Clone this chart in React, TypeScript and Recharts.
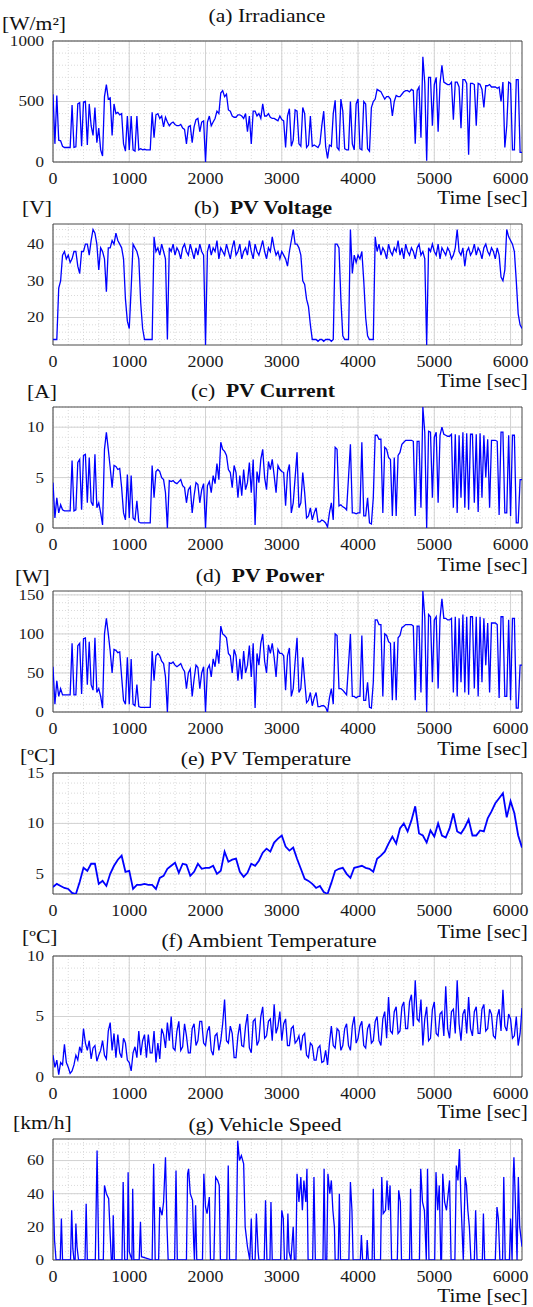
import React from "react";
import { LineChart, Line, XAxis, YAxis, CartesianGrid, ReferenceArea } from "recharts";

const FONT = '"Liberation Serif", "Times New Roman", Times, serif';
const W = 533;
const PLOT_LEFT = 53;
const RIGHT_MARGIN = 11;
const PLOT_H = 121;
const MARGIN_TOP = 12;
const XAXIS_H = 30;
const X_MAX = 6150;

const X_TICKS = [0, 1000, 2000, 3000, 4000, 5000, 6000];

// (a) Irradiance [W/m2], sampled every 25 s from 0 to 6150 s
const IRRADIANCE = [
  560, 150, 550, 180, 175, 130, 120, 120, 120, 120,
  470, 120, 125, 480, 490, 130, 495, 500, 140, 480,
  300, 220, 450, 160, 280, 100, 50, 540, 640, 520,
  530, 220, 480, 400, 410, 390, 400, 150, 90, 380,
  100, 380, 100, 90, 380, 100, 110, 100, 105, 100,
  100, 100, 410, 200, 390, 400, 360, 380, 290, 370,
  330, 300, 320, 330, 310, 300, 300, 310, 280, 270,
  150, 290, 300, 160, 290, 350, 360, 250, 330, 340,
  0, 330, 380, 300, 330, 360, 420, 400, 570, 590,
  540, 560, 430, 420, 380, 370, 370, 390, 390, 380,
  360, 400, 250, 380, 150, 420, 420, 380, 400, 360,
  480, 380, 380, 400, 370, 360, 360, 350, 340, 380,
  350, 340, 120, 380, 440, 130, 180, 430, 420, 150,
  130, 450, 400, 120, 140, 380, 130, 140, 130, 120,
  150, 300, 420, 130, 30, 140, 130, 400, 510, 120,
  100, 520, 420, 110, 100, 100, 500, 150, 100, 480,
  520, 110, 100, 500, 480, 110, 90, 450, 500, 520,
  600, 590, 580, 550, 520, 540, 540, 520, 380, 500,
  550, 540, 540, 560, 580, 590, 590, 580, 600, 590,
  150, 590, 620, 200, 870, 650, 10, 700, 700, 300,
  640, 700, 250, 650, 800, 660, 650, 640, 640, 660,
  350, 660, 660, 620, 280, 680, 680, 650, 60, 650,
  650, 640, 300, 650, 640, 600, 450, 630, 630, 640,
  620, 620, 620, 610, 620, 500, 660, 120, 300, 660,
  650, 100, 100, 680, 680, 80, 80,
];

// (b) PV Voltage [V], every 25 s
const VOLTAGE = [
  14, 14, 14, 28, 30, 37, 38, 36, 37, 35,
  36, 38, 38, 34, 32, 38, 38, 40, 40, 37,
  41, 44, 43, 40, 33, 39, 38, 36, 27, 39,
  39, 41, 40, 43, 41, 40, 39, 36, 25, 19,
  17, 28, 40, 39, 38, 36, 24, 17, 14, 14,
  14, 14, 14, 42, 38, 39, 37, 40, 38, 36,
  14, 39, 38, 40, 37, 39, 38, 36, 39, 40,
  38, 37, 40, 38, 36, 39, 37, 40, 38, 37,
  12.5, 38, 40, 37, 39, 38, 41, 36, 39, 38,
  37, 40, 38, 36, 39, 41, 37, 38, 40, 36,
  38, 39, 37, 41, 38, 36, 40, 38, 37, 39,
  41, 38, 36, 39, 38, 42, 39, 37, 38, 36,
  38, 37, 36, 34, 38, 41, 44, 40, 40, 39,
  37, 30, 29, 25, 23, 18, 14, 14, 14, 13.5,
  14, 14, 13.5, 14, 14, 14, 13.5, 14, 40, 40,
  39, 25, 15, 14, 14, 14, 44, 32, 37, 35,
  37, 36, 38, 30, 20, 15, 14, 14, 14, 42,
  38, 40, 37, 39, 38, 36, 40, 38, 37, 39,
  38, 41, 37, 39, 36, 40, 38, 37, 39, 38,
  36, 39, 40, 37, 38, 36, 12.5, 39, 38, 40,
  38, 37, 40, 36, 39, 38, 37, 39, 38, 36,
  37, 39, 44, 38, 37, 39, 34, 38, 39, 37,
  38, 40, 37, 39, 38, 36, 39, 40, 38, 37,
  39, 38, 36, 39, 37, 31, 30, 33, 44, 42,
  41, 40, 38, 30, 21, 18, 17,
];

// (c) PV Current [A], every 25 s
const CURRENT = [
  4.5, 1, 3, 1.5, 2.3, 1.8, 1.7, 1.7, 1.7, 1.7,
  6.7, 1.7, 1.8, 6.5, 6.8, 1.8, 7.2, 7.3, 2.5, 7,
  2.6, 2.2, 7.3, 2, 2.5, 1.5, 0.3, 7.8, 9.5, 7.8,
  6, 4, 6.2, 6.1, 5.8, 5.9, 4, 1.5, 0.8, 5.3,
  1, 5.2, 1, 0.8, 2.7, 0.6, 0.5, 0.5, 0.5, 0.5,
  0.5, 0.5, 6.2, 3, 5.6, 5.8, 5.6, 5, 4.8, 3.5,
  0, 4.7, 4.6, 4.7, 4.5, 4.4, 4.6, 4.8, 4.2, 4,
  2.5, 3.8, 4.1, 1.5, 3.2, 4.5, 4.3, 2.5, 3.8, 4.4,
  0, 4.2, 4.6, 3.5, 5.2, 4.4, 6.4, 4.8, 8.5, 7.8,
  7.6, 7.2, 5.8, 5.5, 4, 6.2, 5.5, 3, 5.2, 3.2,
  5.8, 3.8, 4.5, 6.5, 3.5, 6.8, 0.3, 5.6, 4.5, 6.8,
  7.8, 5, 3.8, 6.6, 5.8, 6.8, 5.2, 3.5, 6.2, 5.8,
  5.6, 5.5, 2.2, 5.5, 6.3, 1.5, 2.5, 5, 7.5, 2,
  2.5, 5.5, 3.5, 1, 1.2, 2, 0.8, 1.5, 2, 0.6,
  0.6, 0.8, 0.7, 0.5, 0.1, 1.5, 2.5, 0.8, 8, 7.8,
  2.2, 2.3, 2.1, 2, 1.8, 5, 8.3, 1.5, 1.5, 1.4,
  1.5, 1.5, 8.5, 1.2, 1.2, 3, 0.5, 0.4, 3, 9.2,
  9.2, 8.8, 8.8, 1.5, 8, 7.8, 7, 6.8, 1.2, 7,
  1.2, 7.2, 7.5, 8.3, 8.5, 8.7, 8.7, 8.7, 8.7, 8.6,
  1.2, 8.6, 8.6, 2, 12, 9.5, 0, 9.6, 9.5, 3,
  9, 9.5, 2.5, 9.2, 10, 9.3, 9.2, 9.1, 9.1, 9.3,
  2, 9.3, 1.5, 9.2, 3, 9.5, 2, 9.4, 1.8, 9.3,
  9.3, 2.5, 9.3, 1.6, 9.4, 3, 9.2, 5, 8.8, 2,
  8.7, 8.7, 8.7, 8.6, 1.3, 9.5, 9.5, 1.5, 1.5, 9.2,
  1.2, 9.2, 9.2, 0.5, 0.5, 4.8, 4.8,
];

// (d) PV Power [W], every 25 s
const POWER = [
  58, 10, 40, 20, 30, 22, 22, 22, 22, 22,
  88, 22, 22, 85, 88, 23, 94, 95, 35, 90,
  35, 28, 95, 25, 30, 20, 5, 100, 120, 100,
  78, 50, 80, 79, 76, 77, 45, 15, 10, 70,
  10, 68, 10, 8, 35, 7, 6, 6, 6, 6,
  6, 6, 78, 40, 72, 75, 72, 65, 62, 45,
  0, 63, 62, 64, 60, 58, 60, 62, 56, 52,
  30, 50, 55, 20, 42, 60, 57, 30, 50, 58,
  0, 55, 60, 45, 68, 58, 80, 62, 110, 100,
  98, 95, 75, 72, 50, 80, 72, 40, 68, 42,
  78, 50, 60, 85, 45, 88, 5, 75, 60, 88,
  100, 65, 50, 86, 75, 88, 70, 45, 80, 75,
  75, 72, 28, 72, 82, 20, 30, 65, 95, 25,
  30, 70, 40, 12, 15, 25, 8, 18, 25, 7,
  7, 8, 8, 6, 0, 18, 30, 10, 100, 98,
  30, 30, 28, 25, 22, 60, 100, 20, 20, 18,
  20, 20, 98, 15, 15, 38, 6, 5, 38, 118,
  118, 112, 112, 20, 100, 98, 90, 88, 15, 90,
  15, 95, 98, 108, 110, 112, 112, 112, 112, 110,
  15, 110, 110, 25, 155, 122, 0, 125, 122, 38,
  118, 122, 30, 120, 145, 120, 120, 118, 118, 120,
  25, 122, 20, 120, 38, 125, 25, 122, 22, 122,
  122, 30, 122, 20, 122, 38, 120, 60, 114, 25,
  114, 114, 114, 112, 18, 122, 122, 20, 20, 118,
  15, 120, 120, 5, 5, 60, 60,
];

// (e) PV Temperature [ºC], every 50 s
const PV_TEMP = [
  3.7, 4, 3.8, 3.6, 3.5, 3.1, 3.0, 4.2, 5.6, 5.3, 6, 6, 4, 4.3, 3.8, 5, 5.8, 6.4, 6.8, 5.2,
  5.3, 3.5, 3.9, 3.9, 4, 3.9, 3.9, 3.5, 4.6, 4.8, 5.5, 5.8, 6.1, 5.1, 6, 5.9, 4.8, 5.2, 6, 5.5,
  5.6, 5.6, 5.8, 5, 5.3, 7.2, 6.2, 6.4, 6.5, 5.2, 4.7, 5.1, 6, 5.8, 6.3, 7.1, 7.5, 7.2, 8.1, 8.5,
  8.8, 7.7, 7.3, 7.6, 6.5, 5.5, 4.5, 4.3, 4, 3.6, 3.8, 3.2, 3.0, 4.1, 5.3, 5.5, 5.6, 5, 4.6, 5.6,
  5.7, 5.8, 5.6, 5.5, 5.2, 6.5, 6.8, 7.2, 8, 8.7, 8, 9.5, 10, 9.2, 10.3, 11.7, 9, 8.8, 8.1, 9.3,
  8.7, 10, 8.8, 8.6, 9.5, 11, 9.2, 9, 9.6, 10.4, 8.8, 8.8, 9.3, 9.2, 10.5, 11.2, 12, 12.5, 13, 10.6,
  12.2, 11, 8.8, 7.6,
];

// (f) Ambient Temperature [ºC], every 25 s
const AMB_TEMP = [
  1.8, 0.8, 1.4, 0.2, 1.2, 1.0, 2.7, 1.2, 0.8, 0.3,
  0.5, 1.0, 1.8, 1.4, 2.5, 2.0, 4.0, 2.8, 2.2, 3.0,
  1.5, 2.4, 2.6, 1.3, 1.8, 2.2, 3.0, 1.8, 1.5, 3.8,
  4.5, 2.2, 3.6, 1.6, 3.5, 2.0, 1.6, 3.2, 2.8, 1.4,
  1.2, 0.5, 2.0, 2.5, 1.6, 3.8, 1.8, 3.0, 3.5, 1.6,
  3.5, 2.0, 2.0, 3.8, 1.2, 2.8, 1.5, 4.0, 3.5, 2.4,
  4.5, 3.0, 5.0, 2.4, 2.2, 3.8, 4.6, 2.2, 2.5, 4.4,
  3.4, 2.0, 2.0, 4.0, 4.4, 2.6, 3.0, 4.6, 4.6, 2.8,
  2.6, 3.8, 4.2, 2.2, 1.8, 3.4, 3.6, 2.2, 3.0, 4.4,
  6.4, 3.0, 2.8, 4.2, 3.6, 1.6, 1.6, 3.4, 4.4, 2.6,
  2.5, 4.2, 5.2, 2.4, 2.0, 4.6, 4.8, 2.6, 3.0, 5.0,
  5.8, 3.2, 3.4, 4.6, 4.8, 3.0, 6.0, 3.6, 4.2, 5.4,
  3.0, 4.4, 4.8, 2.6, 2.6, 4.0, 4.2, 2.8, 3.0, 3.4,
  2.2, 3.4, 3.6, 1.8, 1.6, 2.8, 2.6, 1.4, 1.4, 2.4,
  2.6, 1.2, 1.3, 2.2, 1.0, 2.8, 4.2, 2.6, 2.4, 4.0,
  3.8, 2.2, 2.6, 4.0, 4.4, 2.6, 2.2, 4.2, 5.0, 2.8,
  3.2, 4.2, 4.6, 2.6, 2.4, 4.0, 4.4, 2.8, 3.0, 4.6,
  5.0, 3.0, 2.6, 4.8, 5.4, 3.2, 6.6, 3.8, 3.6, 5.4,
  5.8, 3.6, 3.8, 5.8, 6.2, 4.0, 4.0, 6.2, 6.8, 4.2,
  8.0, 4.8, 4.6, 6.4, 2.6, 4.8, 5.8, 3.0, 3.2, 5.6,
  6.2, 3.6, 3.4, 5.2, 5.4, 3.4, 7.5, 4.0, 3.2, 5.4,
  5.6, 3.6, 8.0, 4.4, 3.0, 5.2, 5.6, 3.6, 6.6, 4.0,
  3.4, 5.4, 5.8, 3.6, 3.6, 5.6, 6.0, 3.8, 4.0, 5.6,
  5.2, 3.4, 3.2, 5.0, 5.6, 3.8, 7.2, 4.2, 3.8, 5.2,
  4.8, 3.2, 3.4, 5.0, 2.6, 3.6, 5.7,
];

// (g) Vehicle Speed [km/h] as [time s, speed]
const SPEED: [number, number][] = [
  [0, 42], [20, 12], [40, 0], [95, 0], [110, 25], [125, 0], [230, 0], [245, 30], [260, 7], [275, 0],
  [290, 0], [300, 22], [315, 8], [335, 0], [420, 0], [435, 34], [450, 0], [555, 0], [578, 66], [600, 0],
  [660, 0], [675, 45], [700, 40], [730, 37], [750, 15], [765, 0], [780, 0], [790, 27], [805, 0],
  [905, 0], [920, 47], [940, 0], [975, 0], [985, 53], [1000, 5], [1035, 0], [1045, 43], [1060, 0],
  [1130, 0], [1147, 23], [1160, 2], [1300, 0], [1320, 58], [1340, 0], [1385, 0], [1400, 32], [1430, 27],
  [1450, 35], [1475, 62], [1495, 20], [1510, 0], [1595, 0], [1613, 54], [1630, 0], [1750, 0], [1765, 52],
  [1778, 55], [1800, 40], [1830, 36], [1845, 10], [1855, 0], [1870, 33], [1885, 0], [1960, 0], [1978, 52],
  [2000, 32], [2020, 28], [2050, 38], [2065, 0], [2110, 0], [2133, 50], [2160, 48], [2180, 45], [2195, 0],
  [2280, 0], [2298, 57], [2315, 0], [2400, 0], [2422, 72], [2445, 60], [2470, 63], [2500, 58], [2520, 20],
  [2550, 8], [2580, 0], [2600, 25], [2615, 0], [2650, 0], [2667, 28], [2690, 5], [2700, 0], [2770, 0],
  [2787, 36], [2805, 0], [2845, 0], [2858, 35], [2875, 0], [2985, 0], [3000, 30], [3020, 25], [3035, 0],
  [3065, 0], [3080, 28], [3095, 5], [3120, 0], [3150, 20], [3165, 0], [3185, 0], [3200, 52], [3225, 35],
  [3250, 50], [3270, 30], [3290, 48], [3315, 35], [3330, 55], [3345, 0], [3405, 0], [3422, 50], [3440, 0],
  [3540, 0], [3555, 55], [3570, 0], [3590, 0], [3605, 52], [3630, 40], [3650, 48], [3670, 30], [3690, 20],
  [3700, 0], [3740, 0], [3755, 40], [3770, 0], [3880, 0], [3900, 47], [3920, 30], [3935, 0], [4030, 0],
  [4044, 15], [4060, 0], [4110, 0], [4120, 12], [4135, 0], [4185, 0], [4200, 43], [4215, 0], [4295, 0],
  [4311, 50], [4330, 28], [4360, 30], [4380, 48], [4400, 30], [4420, 45], [4440, 0], [4515, 0], [4533, 42],
  [4555, 35], [4570, 0], [4675, 0], [4689, 43], [4705, 0], [4805, 0], [4822, 55], [4845, 35], [4870, 30],
  [4895, 0], [4911, 55], [4930, 0], [5005, 0], [5022, 53], [5045, 30], [5065, 45], [5085, 0], [5095, 0],
  [5111, 52], [5135, 35], [5160, 30], [5200, 48], [5220, 0], [5270, 0], [5289, 57], [5310, 48], [5330, 67],
  [5350, 35], [5380, 0], [5405, 50], [5422, 45], [5440, 30], [5460, 20], [5480, 0], [5525, 0], [5542, 30],
  [5560, 0], [5630, 0], [5644, 28], [5660, 0], [5800, 0], [5822, 32], [5840, 25], [5860, 0], [5895, 0],
  [5911, 50], [5930, 0], [5985, 0], [6000, 25], [6020, 0], [6035, 50], [6044, 62], [6060, 40], [6085, 0],
  [6102, 50], [6120, 20], [6150, 8],
];

const TIME_25 = IRRADIANCE.map((_, i) => i * 25);
const TIME_50 = PV_TEMP.map((_, i) => i * 50);

function gridRange(a: number, b: number, s: number) {
  const out: number[] = [];
  const start = Math.ceil(a / s - 1e-9) * s;
  for (let v = start; v <= b + 1e-9; v += s) out.push(Math.round(v * 1000) / 1000);
  return out;
}
const X_MINOR = gridRange(0, X_MAX, 200);

type Cfg = {
  plotTop: number;
  rows: { t: number; v: number }[];
  domain: [number, number];
  ticks: number[];
  minor: number;
  width: number;
};

const toRows = (t: number[], v: number[]) => t.map((x, i) => ({ t: x, v: v[i] }));

const PANELS: Cfg[] = [
  { plotTop: 41, rows: toRows(TIME_25, IRRADIANCE), domain: [0, 1000], ticks: [0, 500, 1000], minor: 100, width: 1.3 },
  { plotTop: 224, rows: toRows(TIME_25, VOLTAGE), domain: [12.5, 45.5], ticks: [20, 30, 40], minor: 2, width: 1.3 },
  { plotTop: 407, rows: toRows(TIME_25, CURRENT), domain: [0, 12], ticks: [0, 5, 10], minor: 1, width: 1.3 },
  { plotTop: 591, rows: toRows(TIME_25, POWER), domain: [0, 155], ticks: [0, 50, 100, 150], minor: 10, width: 1.3 },
  { plotTop: 773, rows: toRows(TIME_50, PV_TEMP), domain: [3, 15], ticks: [5, 10, 15], minor: 1, width: 1.8 },
  { plotTop: 956, rows: toRows(TIME_25, AMB_TEMP), domain: [0, 10], ticks: [0, 5, 10], minor: 1, width: 1.3 },
  { plotTop: 1139, rows: SPEED.map(([t, v]) => ({ t, v })), domain: [0, 73], ticks: [0, 20, 40, 60], minor: 5, width: 1.3 },
];

const tickStyle: React.CSSProperties = { fontFamily: FONT };

const XTick = (p: any) => (
  <text
    transform={`translate(${p.x},${p.y + 17}) scale(1.12,1)`}
    textAnchor="middle"
    dominantBaseline="central"
    style={tickStyle}
    fontSize={16}
    fill="#1a1a1a"
  >
    {p.payload.value}
  </text>
);

const YTick = (p: any) => (
  <text
    transform={`translate(${p.x - 9},${p.y}) scale(1.22,1)`}
    textAnchor="end"
    dominantBaseline="central"
    style={tickStyle}
    fontSize={14}
    fill="#1a1a1a"
  >
    {p.payload.value}
  </text>
);

function Panel({ cfg }: { cfg: Cfg }) {
  const [y0, y1] = cfg.domain;
  const yMinor = gridRange(y0, y1, cfg.minor);
  return (
    <div style={{ position: "absolute", left: 0, top: cfg.plotTop - MARGIN_TOP }}>
      <LineChart
        width={W}
        height={PLOT_H + MARGIN_TOP + XAXIS_H}
        data={cfg.rows}
        margin={{ top: MARGIN_TOP, right: RIGHT_MARGIN, bottom: 0, left: 0 }}
      >
        <CartesianGrid verticalValues={X_MINOR} horizontalValues={yMinor} stroke="#dadada" strokeDasharray="1 2" />
        <CartesianGrid verticalValues={X_TICKS} horizontalValues={cfg.ticks} stroke="#d2d2d2" />
        <XAxis
          dataKey="t"
          type="number"
          domain={[0, X_MAX]}
          ticks={X_TICKS}
          interval={0}
          allowDataOverflow
          axisLine={false}
          tickLine={false}
          tickSize={0}
          tickMargin={0}
          height={XAXIS_H}
          tick={XTick}
        />
        <YAxis
          type="number"
          domain={cfg.domain}
          ticks={cfg.ticks}
          interval={0}
          allowDataOverflow
          axisLine={false}
          tickLine={false}
          tickSize={0}
          tickMargin={0}
          width={PLOT_LEFT}
          tick={YTick}
        />
        <Line type="linear" dataKey="v" stroke="#0000ff" strokeWidth={cfg.width} dot={false} isAnimationActive={false} />
        <ReferenceArea x1={0} x2={X_MAX} y1={y0} y2={y1} fill="none" stroke="#4a4a4a" strokeWidth={1} ifOverflow="visible" />
      </LineChart>
    </div>
  );
}

const baseText: React.CSSProperties = {
  position: "absolute",
  fontFamily: FONT,
  fontSize: 18,
  lineHeight: "18px",
  whiteSpace: "nowrap",
  color: "#111",
};

function Title({ cx, cy, children }: { cx: number; cy: number; children: React.ReactNode }) {
  return (
    <div style={{ ...baseText, left: cx, top: cy, transform: "translate(-50%,-50%) scaleX(1.2)" }}>{children}</div>
  );
}
function Unit({ x, cy, children }: { x: number; cy: number; children: React.ReactNode }) {
  return (
    <div style={{ ...baseText, left: x, top: cy, transformOrigin: "left center", transform: "translateY(-50%) scaleX(1.2)" }}>
      {children}
    </div>
  );
}
function TimeLabel({ cy }: { cy: number }) {
  return (
    <div style={{ ...baseText, right: 5, top: cy, transformOrigin: "right center", transform: "translateY(-50%) scaleX(1.18)" }}>
      Time [sec]
    </div>
  );
}

const TIME_LABEL_Y = [198, 381, 565, 749, 932, 1112, 1296];

export default function App() {
  return (
    <div style={{ position: "absolute", left: 0, top: 0, width: W, height: 1307, background: "#fff", overflow: "hidden" }}>
      {PANELS.map((p, i) => (
        <Panel key={i} cfg={p} />
      ))}
      <Title cx={267} cy={16}>(a) Irradiance</Title>
      <Title cx={263} cy={208}>(b)&nbsp; <b>PV Voltage</b></Title>
      <Title cx={263} cy={391}>(c)&nbsp; <b>PV Current</b></Title>
      <Title cx={260} cy={576}>(d)&nbsp; <b>PV Power</b></Title>
      <Title cx={266} cy={759}>(e) PV Temperature</Title>
      <Title cx={269} cy={941}>(f) Ambient Temperature</Title>
      <Title cx={265} cy={1125}>(g) Vehicle Speed</Title>
      <Unit x={2} cy={24}>[W/m²]</Unit>
      <Unit x={22} cy={208}>[V]</Unit>
      <Unit x={27} cy={392}>[A]</Unit>
      <Unit x={15} cy={577}>[W]</Unit>
      <Unit x={20} cy={756}>[ºC]</Unit>
      <Unit x={22} cy={937}>[ºC]</Unit>
      <Unit x={13} cy={1123}>[km/h]</Unit>
      {TIME_LABEL_Y.map((y, i) => (
        <TimeLabel key={i} cy={y} />
      ))}
    </div>
  );
}
